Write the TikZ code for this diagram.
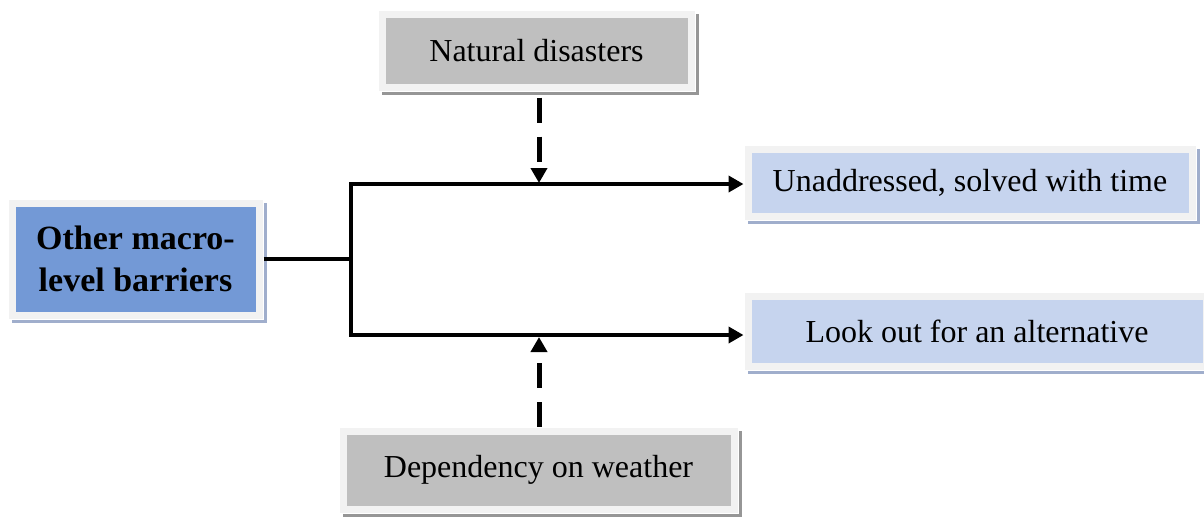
\documentclass[tikz,border=0pt]{standalone}
\usepackage{fontspec}
\setmainfont{Liberation Serif}
\usetikzlibrary{arrows.meta,shadows}
\definecolor{framegray}{RGB}{242,242,242}
\definecolor{darkblue}{RGB}{115,153,214}
\definecolor{paleblue}{RGB}{198,212,238}
\definecolor{boxgray}{RGB}{191,191,191}
\definecolor{blueshadow}{RGB}{160,174,204}
\definecolor{grayshadow}{RGB}{150,150,150}

\tikzset{
  card/.style 2 args={rectangle, fill=framegray, draw=white, line width=0.5pt,
    inner sep=0pt, align=center,
    drop shadow={shadow xshift=2pt, shadow yshift=-2pt, opacity=1, fill=#2},
    path picture={\fill[#1]
      ([shift={(3.75pt,3.75pt)}]path picture bounding box.south west) rectangle
      ([shift={(-3.75pt,-3.75pt)}]path picture bounding box.north east);}},
  bluecard/.style={card={paleblue}{blueshadow}, font=\fontsize{16}{19}\selectfont},
  graycard/.style={card={boxgray}{grayshadow}, font=\fontsize{16}{19}\selectfont},
  maincard/.style={card={darkblue}{blueshadow}, font=\bfseries\fontsize{17}{21}\selectfont},
  link/.style={line width=2pt},
  flow/.style={link, -{Triangle[length=7.5pt,width=8pt]}},
  influence/.style={line width=2.5pt, dash pattern=on 12.5pt off 7pt,
    -{Triangle[length=7.5pt,width=8pt]}}
}

\begin{document}
\begin{tikzpicture}[x=0.5pt,y=-0.5pt]
  \useasboundingbox (0,0) rectangle (1204,516);

  \node[maincard, minimum width=127.5pt, minimum height=60pt] (barriers) at (135.5,259)
    {Other macro-\\level barriers};
  \node[graycard, minimum width=158.5pt, minimum height=40.5pt] (disasters) at (536.5,50.5)
    {Natural disasters};
  \node[graycard, minimum width=199.5pt, minimum height=43pt] (weather) at (538.5,470)
    {Dependency on weather};
  \node[bluecard, minimum width=226pt, minimum height=37.5pt] (unaddressed) at (970,182.5)
    {Unaddressed, solved with time};
  \node[bluecard, minimum width=233pt, minimum height=39pt] (alternative) at (977,331)
    {Look out for an alternative};

  % branching connector
  \coordinate (split) at (351,259);
  \coordinate (upper) at (351,184);
  \coordinate (lower) at (351,335);
  \draw[link] (barriers.east) -- (split);
  \draw[link, line cap=rect] (upper) -- (lower);
  \draw[flow] (upper) -- (alternative.west |- upper);
  \draw[flow] (lower) -- (alternative.west |- lower);

  % external influences
  \coordinate (hitTop) at (539,183);
  \coordinate (hitBottom) at (539,337);
  \draw[influence] (disasters.south -| hitTop) ++(0,6) -- (hitTop);
  \draw[influence] (weather.north -| hitBottom) -- (hitBottom);
\end{tikzpicture}
\end{document}
